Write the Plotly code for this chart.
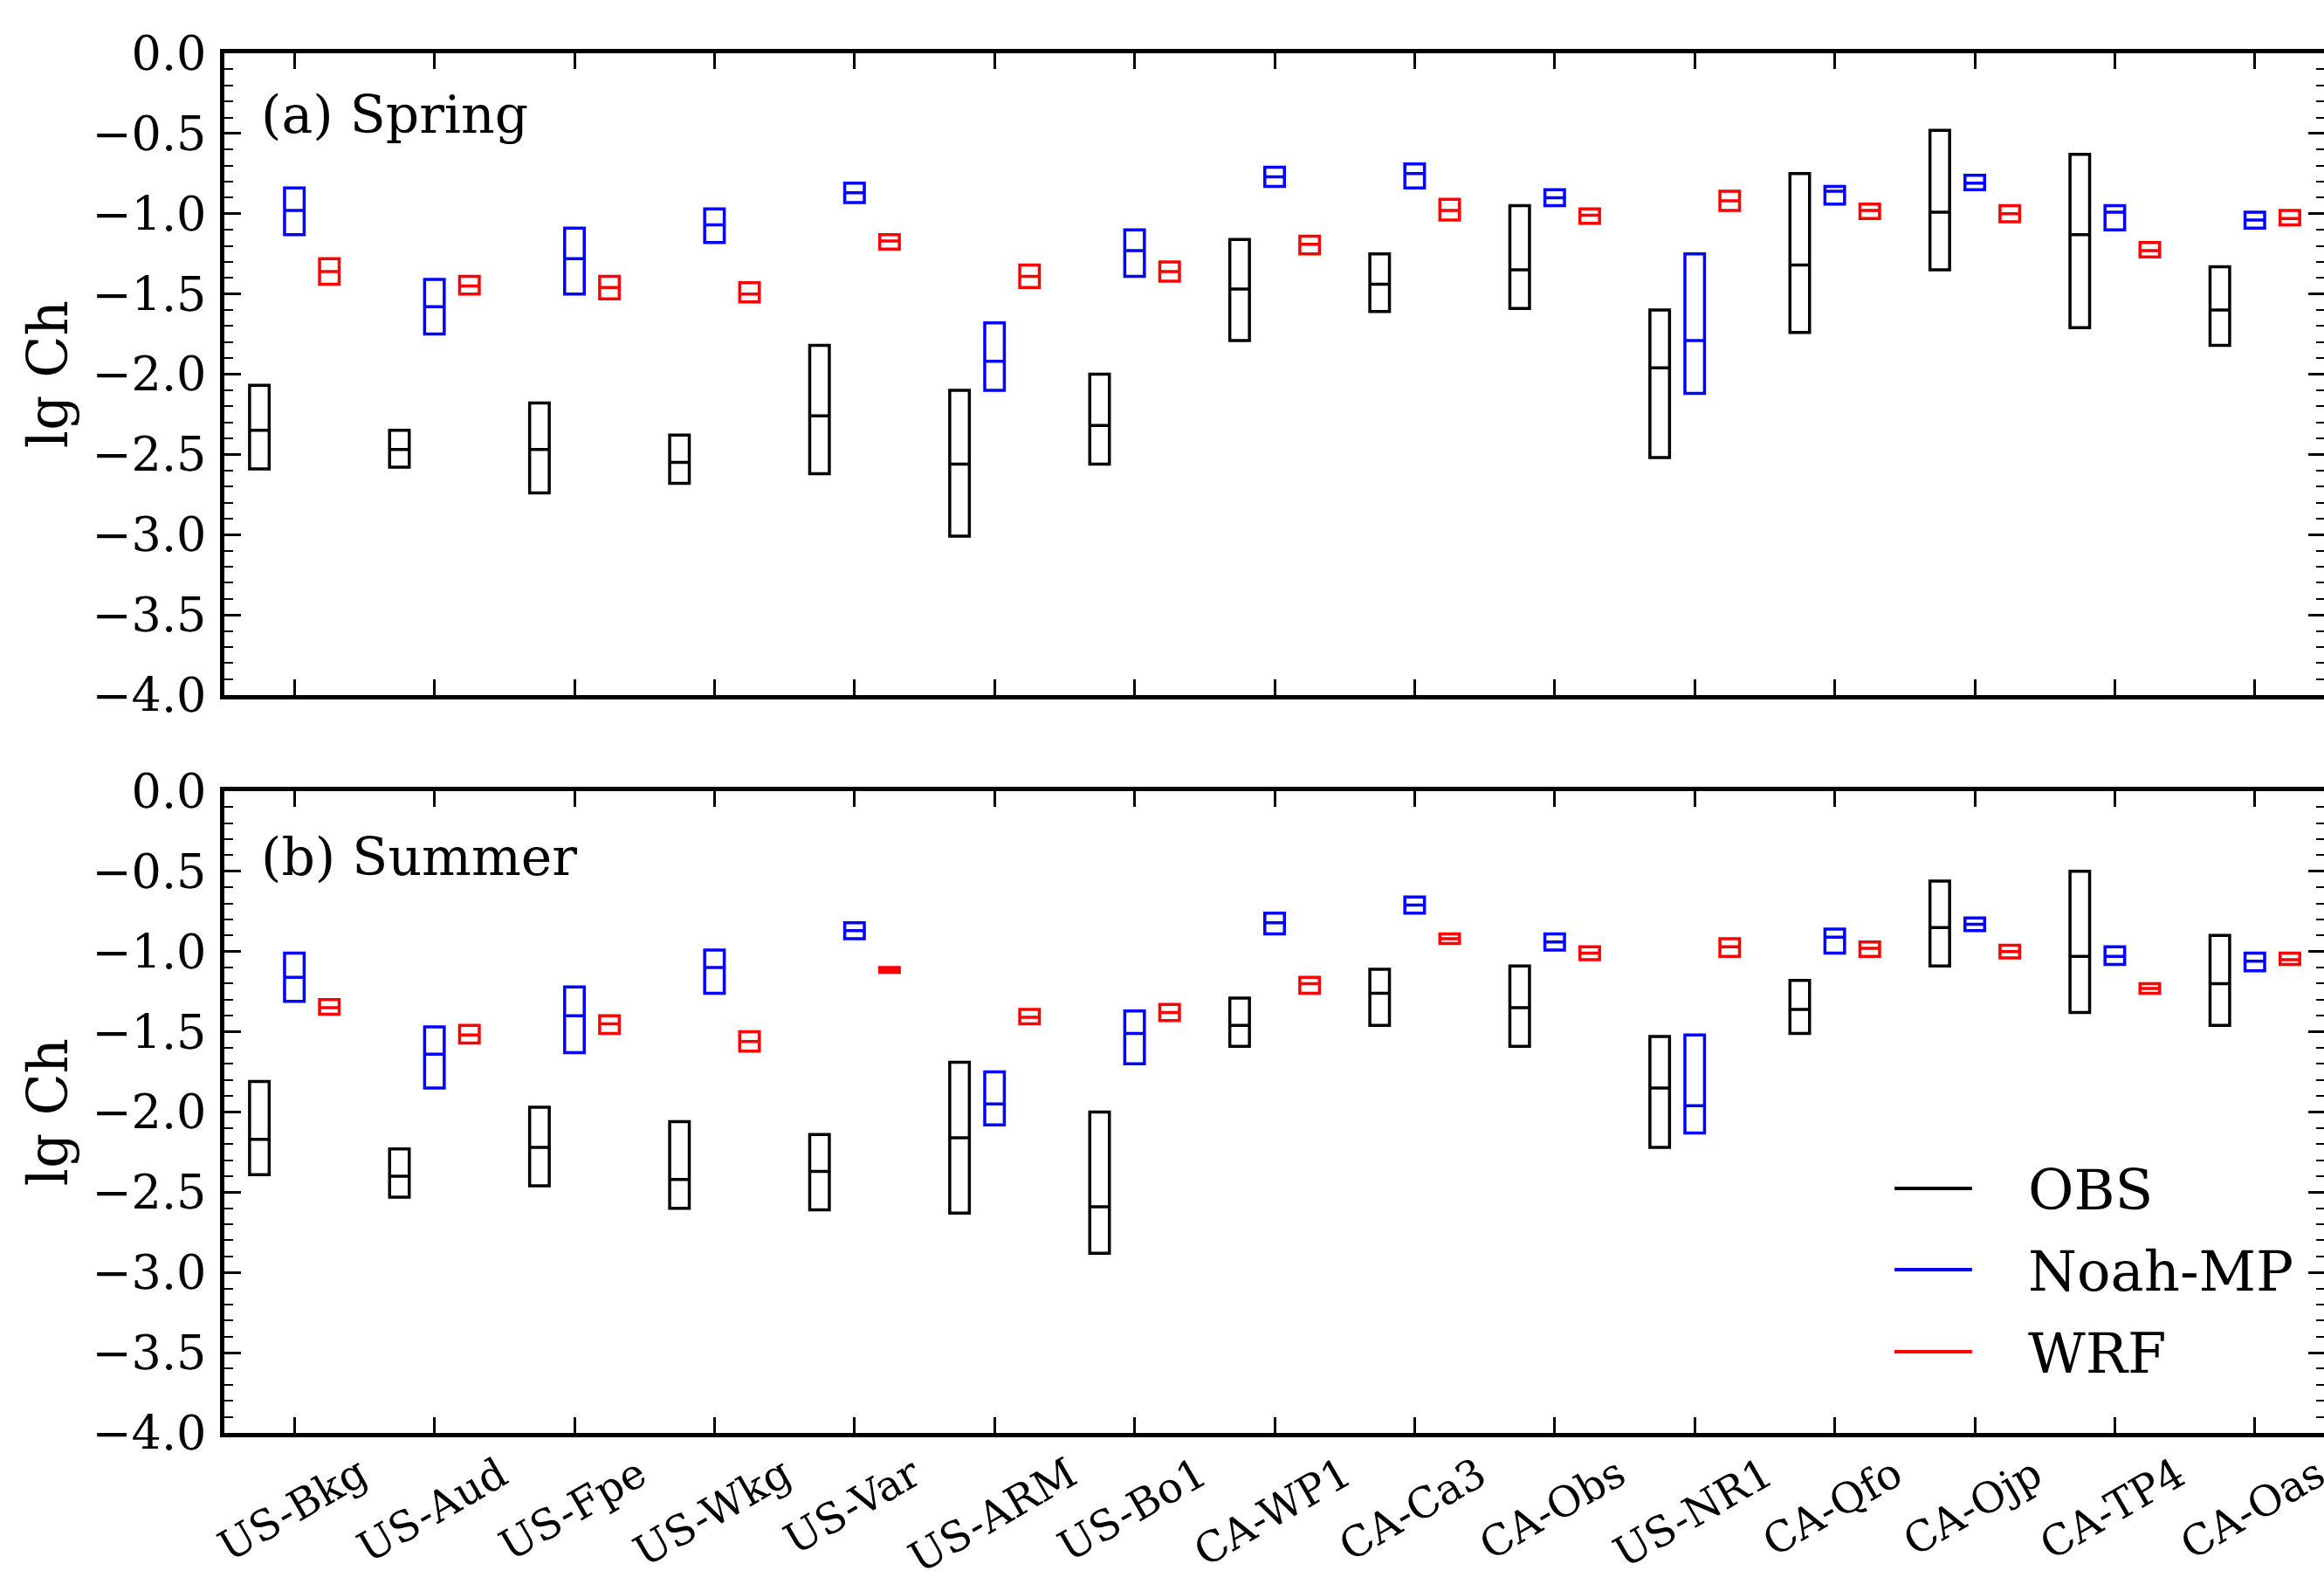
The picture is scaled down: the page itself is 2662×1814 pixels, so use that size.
import plotly.graph_objects as go

# ---------------- data ----------------
sites = ["US-Bkg", "US-Aud", "US-Fpe", "US-Wkg", "US-Var", "US-ARM", "US-Bo1", "CA-WP1",
         "CA-Ca3", "CA-Obs", "US-NR1", "CA-Qfo", "CA-Ojp", "CA-TP4", "CA-Oas"]

# Spring (upper quartile, median, lower quartile of lg Ch)
spring_obs_up = [-2.07, -2.35, -2.18, -2.38, -1.82, -2.10, -2.00, -1.16, -1.25, -0.95, -1.60, -0.75, -0.48, -0.63, -1.33]
spring_obs_med = [-2.35, -2.47, -2.47, -2.55, -2.26, -2.56, -2.32, -1.47, -1.44, -1.35, -1.96, -1.32, -0.99, -1.13, -1.60]
spring_obs_lo = [-2.59, -2.58, -2.74, -2.68, -2.62, -3.01, -2.56, -1.79, -1.61, -1.59, -2.52, -1.74, -1.35, -1.71, -1.82]

spring_noah_up = [-0.84, -1.41, -1.09, -0.97, -0.81, -1.68, -1.10, -0.71, -0.69, -0.85, -1.25, -0.83, -0.76, -0.95, -0.99]
spring_noah_med = [-0.98, -1.58, -1.28, -1.07, -0.87, -1.92, -1.23, -0.77, -0.75, -0.90, -1.79, -0.86, -0.81, -0.99, -1.04]
spring_noah_lo = [-1.13, -1.75, -1.50, -1.18, -0.93, -2.10, -1.39, -0.83, -0.84, -0.95, -2.12, -0.94, -0.85, -1.10, -1.09]

spring_wrf_up = [-1.28, -1.39, -1.39, -1.43, -1.13, -1.32, -1.30, -1.14, -0.91, -0.97, -0.86, -0.94, -0.95, -1.18, -0.98]
spring_wrf_med = [-1.36, -1.45, -1.46, -1.50, -1.17, -1.39, -1.36, -1.19, -0.98, -1.01, -0.92, -0.98, -1.00, -1.23, -1.03]
spring_wrf_lo = [-1.44, -1.50, -1.53, -1.55, -1.22, -1.46, -1.42, -1.25, -1.04, -1.06, -0.98, -1.03, -1.05, -1.27, -1.07]

# Summer
summer_obs_up = [-1.81, -2.23, -1.97, -2.06, -2.14, -1.69, -2.00, -1.29, -1.11, -1.09, -1.53, -1.18, -0.56, -0.50, -0.90]
summer_obs_med = [-2.17, -2.40, -2.22, -2.42, -2.37, -2.16, -2.59, -1.46, -1.26, -1.35, -1.85, -1.36, -0.85, -1.03, -1.20]
summer_obs_lo = [-2.39, -2.53, -2.46, -2.60, -2.61, -2.63, -2.88, -1.59, -1.46, -1.59, -2.22, -1.51, -1.09, -1.38, -1.46]

summer_noah_up = [-1.01, -1.47, -1.22, -0.99, -0.82, -1.75, -1.37, -0.76, -0.66, -0.89, -1.52, -0.86, -0.79, -0.97, -1.01]
summer_noah_med = [-1.16, -1.64, -1.40, -1.10, -0.87, -1.95, -1.51, -0.82, -0.71, -0.94, -1.96, -0.91, -0.83, -1.03, -1.06]
summer_noah_lo = [-1.31, -1.85, -1.63, -1.26, -0.92, -2.08, -1.70, -0.89, -0.76, -0.99, -2.13, -1.01, -0.87, -1.08, -1.12]

summer_wrf_up = [-1.30, -1.46, -1.40, -1.50, -1.10, -1.36, -1.33, -1.16, -0.89, -0.97, -0.92, -0.94, -0.96, -1.20, -1.01]
summer_wrf_med = [-1.35, -1.52, -1.45, -1.56, -1.11, -1.41, -1.38, -1.20, -0.92, -1.01, -0.97, -0.98, -1.00, -1.23, -1.05]
summer_wrf_lo = [-1.39, -1.57, -1.51, -1.62, -1.13, -1.45, -1.43, -1.26, -0.95, -1.05, -1.03, -1.03, -1.04, -1.26, -1.08]

series_names = ["OBS", "Noah-MP", "WRF"]
series_colors = ["#000000", "#0000ff", "#ff0000"]
series_offsets = [-0.25, 0.0, 0.25]

yticks = [0.0, -0.5, -1.0, -1.5, -2.0, -2.5, -3.0, -3.5, -4.0]
ytick_text = [f"{v:.1f}".replace("-", "\u2212") for v in yticks]

FONT = "DejaVu Serif"

# ---------------- figure ----------------
fig = go.Figure()

panels = [
    ("x", "y", [(spring_obs_lo, spring_obs_med, spring_obs_up),
                (spring_noah_lo, spring_noah_med, spring_noah_up),
                (spring_wrf_lo, spring_wrf_med, spring_wrf_up)]),
    ("x2", "y2", [(summer_obs_lo, summer_obs_med, summer_obs_up),
                  (summer_noah_lo, summer_noah_med, summer_noah_up),
                  (summer_wrf_lo, summer_wrf_med, summer_wrf_up)]),
]

for xa, ya, groups in panels:
    for (lo, med, up), name, col, off in zip(groups, series_names, series_colors, series_offsets):
        xs = [i + off for i in range(len(sites))]
        fig.add_trace(go.Box(
            x=xs, q1=lo, median=med, q3=up, lowerfence=lo, upperfence=up,
            width=0.14, whiskerwidth=0, boxpoints=False,
            line=dict(color=col, width=3.5), fillcolor="rgba(0,0,0,0)",
            name=name, showlegend=False, xaxis=xa, yaxis=ya,
        ))

W, H = 2668, 1814
ML, MR, MT, MB = 257, 0, 61, 173
plot_w = W - ML - MR
plot_h = H - MT - MB


def px_x(px):
    return (px - ML) / plot_w


def px_y(py):
    return (H - MB - py) / plot_h


xaxis_common = dict(
    range=[-0.5, len(sites) - 0.5], tickmode="array", tickvals=list(range(len(sites))),
    ticks="inside", ticklen=18, tickwidth=3, tickcolor="black",
    showline=True, linewidth=4.5, linecolor="black", mirror="ticks",
    showgrid=False, zeroline=False, showticklabels=False,
)
yaxis_common = dict(
    range=[-4.0, 0.0], tickmode="array", tickvals=yticks, ticktext=ytick_text,
    ticks="inside", ticklen=19, tickwidth=3, tickcolor="black",
    minor=dict(dtick=0.1, tick0=0, ticks="inside", ticklen=10, tickwidth=2, tickcolor="black", showgrid=False),
    showline=True, linewidth=4.5, linecolor="black", mirror="ticks",
    showgrid=False, zeroline=False,
    tickfont=dict(family=FONT, size=54, color="black"), ticklabelstandoff=5,
    title=dict(text="lg Ch", font=dict(family=FONT, size=63, color="black"), standoff=9),
)

fig.update_layout(
    width=W, height=H,
    margin=dict(l=ML, r=MR, t=MT, b=MB, pad=0),
    paper_bgcolor="white", plot_bgcolor="white",
    boxmode="overlay",
    font=dict(family=FONT, color="black"),
    xaxis=dict(domain=[0, 1], anchor="y", **xaxis_common),
    yaxis=dict(domain=[0.5348, 1.0], anchor="x", **yaxis_common),
    xaxis2=dict(domain=[0, 1], anchor="y2", **xaxis_common),
    yaxis2=dict(domain=[0.0, 0.4652], anchor="x2", **yaxis_common),
    showlegend=False,
)

# legend (line keys + labels) inside the summer panel
legend_rows = [1361, 1454, 1548]
for name, col, row in zip(series_names, series_colors, legend_rows):
    fig.add_shape(type="line", xref="paper", yref="paper",
                  x0=px_x(2174), x1=px_x(2263), y0=px_y(row), y1=px_y(row),
                  line=dict(color=col, width=4))
    fig.add_annotation(text=name, xref="paper", yref="paper", x=px_x(2325), y=px_y(row + 2),
                       xanchor="left", yanchor="middle", showarrow=False,
                       font=dict(family=FONT, size=64, color="black"))

# panel labels
fig.add_annotation(text="(a) Spring", xref="paper", yref="paper", x=px_x(297), y=0.9554,
                   xanchor="left", yanchor="middle", showarrow=False,
                   font=dict(family=FONT, size=60, color="black"))
fig.add_annotation(text="(b) Summer", xref="paper", yref="paper", x=px_x(297), y=0.418,
                   xanchor="left", yanchor="middle", showarrow=False,
                   font=dict(family=FONT, size=60, color="black"))

# rotated site labels under the bottom panel
for i, s in enumerate(sites):
    fig.add_annotation(text=s, xref="x2", yref="paper", x=i - 0.015, y=px_y(1655),
                       xanchor="center", yanchor="top", textangle=-30, showarrow=False,
                       font=dict(family=FONT, size=48, color="black"))

fig.write_html("out.html", config={"displayModeBar": False},
               post_script="document.body.style.margin='0px';document.body.style.overflow='hidden';")
